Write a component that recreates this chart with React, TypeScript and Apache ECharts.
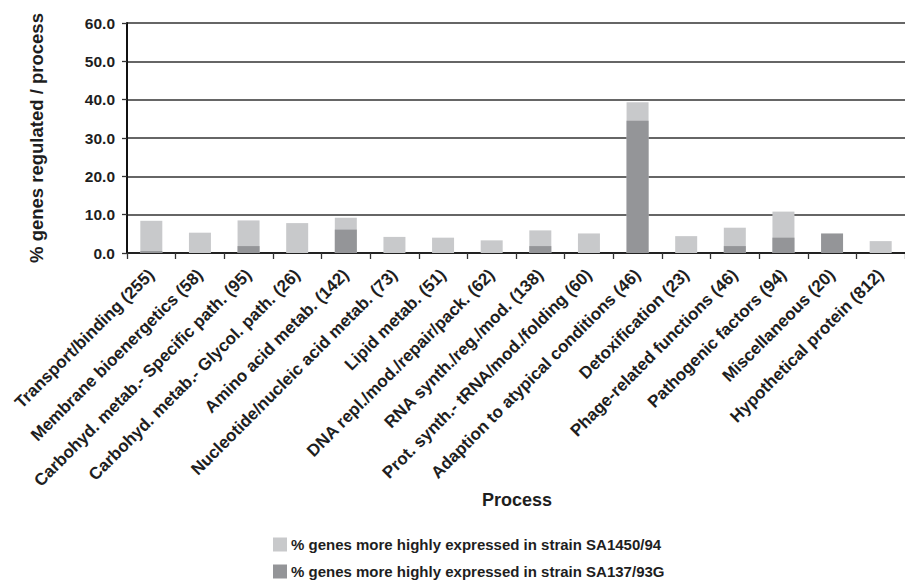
import React, { useEffect, useRef } from "react";
import * as echarts from "echarts";

const categories = [
  "Transport/binding (255)",
  "Membrane bioenergetics (58)",
  "Carbohyd. metab.- Specific path. (95)",
  "Carbohyd. metab.- Glycol. path. (26)",
  "Amino acid metab. (142)",
  "Nucleotide/nucleic acid metab. (73)",
  "Lipid metab. (51)",
  "DNA repl./mod./repair/pack. (62)",
  "RNA synth./reg./mod. (138)",
  "Prot. synth.- tRNA/mod./folding (60)",
  "Adaption to atypical conditions (46)",
  "Detoxification (23)",
  "Phage-related functions (46)",
  "Pathogenic factors (94)",
  "Miscellaneous (20)",
  "Hypothetical protein (812)",
];

const seriesNames = [
  "% genes more highly expressed in strain SA1450/94",
  "% genes more highly expressed in strain SA137/93G",
];

const lightValues = [8.4, 5.3, 8.5, 7.8, 9.2, 4.2, 4.0, 3.3, 5.9, 5.1, 39.3, 4.4, 6.6, 10.8, 0, 3.1];
const darkValues = [0.5, 0, 1.8, 0, 6.1, 0, 0, 0, 1.8, 0, 34.5, 0, 1.8, 4.0, 5.1, 0];

const yTicks = { min: 0, max: 60, interval: 10 };

const FONT = "'Liberation Sans', Arial, Helvetica, sans-serif";
const TEXT = "#1e1e1e";

export default function App() {
  const ref = useRef<HTMLDivElement>(null);

  useEffect(() => {
    if (!ref.current) return;
    const chart = echarts.init(ref.current, undefined, { renderer: "svg" });
    chart.setOption({
      animation: false,
      backgroundColor: "#ffffff",
      textStyle: { fontFamily: FONT },
      grid: { left: 127, top: 23, width: 784, height: 230, containLabel: false },
      legend: {
        orient: "vertical",
        left: 273,
        top: 537,
        padding: 0,
        itemWidth: 14,
        itemHeight: 14,
        itemGap: 12,
        icon: "rect",
        data: seriesNames,
        textStyle: { fontFamily: FONT, fontSize: 15, fontWeight: "bold", color: TEXT, padding: [0, 0, 0, -1] },
      },
      xAxis: {
        type: "category",
        data: categories,
        boundaryGap: true,
        axisLine: { show: true, lineStyle: { color: "#222", width: 2 } },
        axisTick: { show: true, length: 6, alignWithLabel: false, lineStyle: { color: "#333", width: 1.3 } },
        axisLabel: {
          interval: 0,
          rotate: 45,
          margin: 19,
          fontFamily: FONT,
          fontSize: 17,
          fontWeight: "bold",
          color: TEXT,
        },
      },
      yAxis: {
        type: "value",
        min: yTicks.min,
        max: yTicks.max,
        interval: yTicks.interval,
        axisLine: { show: true, lineStyle: { color: "#111", width: 2 } },
        axisTick: { show: true, length: 5, lineStyle: { color: "#333", width: 1.3 } },
        splitLine: { show: true, lineStyle: { color: "#333", width: 1.5 } },
        axisLabel: {
          margin: 12,
          fontFamily: FONT,
          fontSize: 15.5,
          fontWeight: "bold",
          color: TEXT,
          formatter: (v: number) => v.toFixed(1),
        },
      },
      graphic: [
        {
          type: "text",
          x: 36,
          y: 138,
          rotation: Math.PI / 2,
          style: {
            text: "% genes regulated / process",
            fontFamily: FONT,
            fontSize: 18.5,
            fontWeight: "bold",
            fill: TEXT,
            align: "center",
            verticalAlign: "middle",
          },
        },
        {
          type: "text",
          x: 517,
          y: 500,
          style: {
            text: "Process",
            fontFamily: FONT,
            fontSize: 18,
            fontWeight: "bold",
            fill: TEXT,
            align: "center",
            verticalAlign: "middle",
          },
        },
      ],
      series: [
        {
          name: seriesNames[0],
          type: "bar",
          data: lightValues,
          barWidth: 22,
          barGap: "-100%",
          itemStyle: { color: "#c8c9cb" },
        },
        {
          name: seriesNames[1],
          type: "bar",
          data: darkValues,
          barWidth: 22,
          barGap: "-100%",
          itemStyle: { color: "#949598" },
        },
      ],
    });
    return () => chart.dispose();
  }, []);

  return (
    <div
      ref={ref}
      style={{ position: "absolute", left: 0, top: 0, width: 905, height: 583 }}
    />
  );
}
